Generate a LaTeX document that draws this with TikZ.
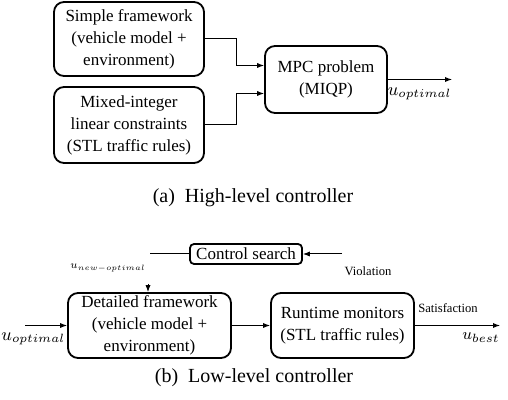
\documentclass[tikz,border=0pt]{standalone}
\usepackage{amsmath}
\usepackage{graphicx}
\usepackage[no-math]{fontspec}
\setmainfont{Liberation Serif}
\usetikzlibrary{arrows.meta, positioning, calc}

\begin{document}
\begin{tikzpicture}[x=0.5pt, y=-0.5pt,
    block/.style={draw, rounded corners=5pt, line width=0.9pt, align=center, font=\fontsize{8.5}{11}\selectfont, inner sep=0pt},
    small/.style={font=\fontsize{6.3}{7}\selectfont},
    mlabel/.style={font=\fontsize{9}{11}\selectfont, inner sep=0pt},
    >={Latex[length=3.5pt, width=2.6pt]}]
\useasboundingbox (0,0) rectangle (508,400);

% (a) high-level controller
\node[block, minimum width=75pt, minimum height=37pt] (simple) at (129,39) {Simple framework\\(vehicle model +\\environment)};
\node[block, minimum width=75pt, minimum height=38pt] (milp) at (129,125) {Mixed-integer\\linear constraints\\(STL traffic rules)};
\node[block, minimum width=61pt, minimum height=33.5pt] (mpc) at (326,79.5) {MPC problem\\(MIQP)};
\coordinate (uout) at (452,79.5);

\draw[->, line width=0.5pt] (simple.east) -- ++(32,0) |- ($(mpc.west)+(0,-14)$);
\draw[->, line width=0.5pt] (milp.east) -- ++(32,0) |- ($(mpc.west)+(0,14)$);
\draw[->, line width=0.5pt] (mpc.east) -- (uout);
\node[mlabel, anchor=north east] (uopt1) at ($(uout)+(0,8)$) {$u_{optimal}$};

\node[font=\fontsize{10}{12}\selectfont] (capa) at (253,198) {(a)\enspace High-level controller};

% (b) low-level controller
\node[block, rounded corners=2pt, minimum width=56pt, minimum height=10pt] (search) at (246,254) {Control search};
\node[block, minimum width=81.5pt, minimum height=32.5pt] (detailed) at (149.5,325.5) {Detailed framework\\(vehicle model +\\environment)};
\node[block, minimum width=71.5pt, minimum height=32.5pt] (runtime) at (342.5,325.5) {Runtime monitors\\(STL traffic rules)};

\coordinate (sl) at (150,254);
\coordinate (sr) at (342,254);
\coordinate (nopt) at (148,284);
\coordinate (uin) at (25,325.5);
\coordinate (ubest) at (500,325.5);

\draw[line width=0.5pt] (sl) -- (search.west);
\draw[->, line width=0.5pt] (sr) -- (search.east);
\draw[->, line width=0.5pt] (nopt) -- (nopt |- detailed.north);
\draw[->, line width=0.5pt] (uin) -- (detailed.west);
\draw[->, line width=0.5pt] (detailed.east) -- (runtime.west);
\draw[->, line width=0.5pt] (runtime.east) -- (ubest);

% labels
\node[font=\fontsize{7}{8}\selectfont] (unew) at (108,268) {\scalebox{0.77}{$u_{new-optimal}$}};
\node[small] (viol) at (368,271) {Violation};
\node[small] (sat) at (448,308) {Satisfaction};
\node[mlabel, anchor=north west] (uopt2) at (1,332) {$u_{optimal}$};
\node[font=\fontsize{8}{10}\selectfont, inner sep=0pt, anchor=north east] (ub) at ($(ubest)+(0,7)$) {$u_{best}$};

\node[font=\fontsize{10}{12}\selectfont] (capb) at (254,378) {(b)\enspace Low-level controller};
\end{tikzpicture}
\end{document}
